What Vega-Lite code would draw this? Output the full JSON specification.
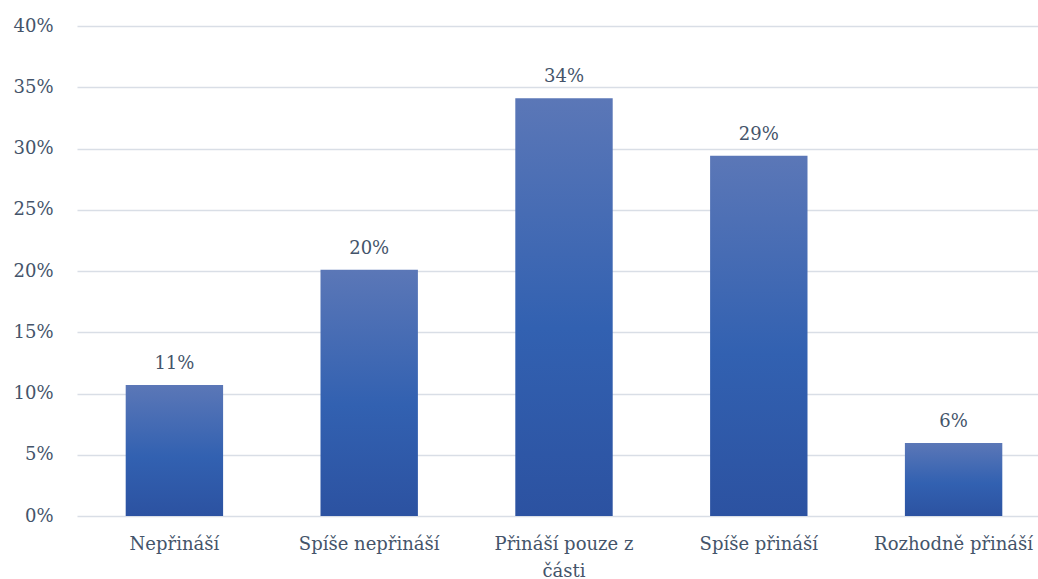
{
  "$schema": "https://vega.github.io/schema/vega-lite/v6.json",
  "autosize": "none",
  "padding": {"left": 77, "top": 26, "right": 0, "bottom": 63},
  "width": 961,
  "height": 490,
  "background": "white",
  "config": {
    "view": {"stroke": null},
    "font": "DejaVu Serif",
    "axis": {"labelFont": "DejaVu Serif"},
    "text": {"font": "DejaVu Serif"}
  },
  "data": {
    "values": [
      {"kategorie": "Nepřináší", "podil": 0.107, "popisek": "11%"},
      {"kategorie": "Spíše nepřináší", "podil": 0.201, "popisek": "20%"},
      {"kategorie": "Přináší pouze z části", "podil": 0.341, "popisek": "34%"},
      {"kategorie": "Spíše přináší", "podil": 0.294, "popisek": "29%"},
      {"kategorie": "Rozhodně přináší", "podil": 0.0596, "popisek": "6%"}
    ]
  },
  "encoding": {
    "x": {
      "field": "kategorie",
      "type": "nominal",
      "sort": null,
      "scale": {"range": [0, 974], "paddingInner": 0.5, "paddingOuter": 0.25},
      "axis": {
        "title": null,
        "labelAngle": 0,
        "domain": false,
        "ticks": false,
        "grid": false,
        "labelFontSize": 18,
        "labelColor": "#44546a",
        "labelPadding": 19,
        "labelLineHeight": 27,
        "labelExpr": "datum.label == 'Přináší pouze z části' ? ['Přináší pouze z', 'části'] : datum.label"
      }
    },
    "y": {
      "field": "podil",
      "type": "quantitative",
      "scale": {"domain": [0, 0.4]},
      "axis": {
        "title": null,
        "format": ".0%",
        "values": [0, 0.05, 0.1, 0.15, 0.2, 0.25, 0.3, 0.35, 0.4],
        "domain": false,
        "ticks": false,
        "grid": true,
        "gridColor": "#d9dee6",
        "gridWidth": 1.5,
        "labelFontSize": 18,
        "labelColor": "#44546a",
        "labelPadding": 24
      }
    }
  },
  "layer": [
    {
      "mark": {
        "type": "bar",
        "color": {
          "gradient": "linear",
          "x1": 0, "y1": 0, "x2": 0, "y2": 1,
          "stops": [
            {"offset": 0, "color": "#5b77b7"},
            {"offset": 0.55, "color": "#3261b1"},
            {"offset": 1, "color": "#2c52a1"}
          ]
        }
      }
    },
    {
      "mark": {
        "type": "text",
        "baseline": "bottom",
        "dy": -12,
        "fontSize": 18,
        "color": "#44546a"
      },
      "encoding": {"text": {"field": "popisek"}}
    }
  ]
}
